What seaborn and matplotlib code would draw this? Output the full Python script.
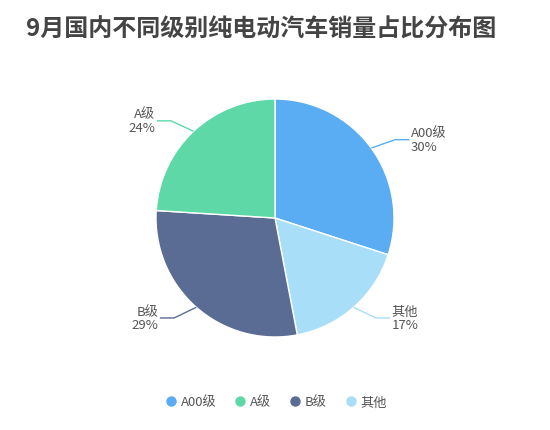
import numpy as np
import seaborn as sns
import matplotlib.pyplot as plt
from matplotlib.lines import Line2D

# data
categories = ['A00级', '其他', 'B级', 'A级']   # clockwise from 12 o'clock
shares = [30, 17, 29, 24]
colors = ['#5aadf3', '#a8def8', '#5a6b94', '#5fd8a8']
legend_order = ['A00级', 'A级', 'B级', '其他']
title = '9月国内不同级别纯电动汽车销量占比分布图'

sns.set_theme(style='white')
plt.rcParams['font.family'] = ['Noto Sans CJK SC', 'DejaVu Sans']

W, H = 550, 431
cx, cy, R = 275, 219, 119
fig = plt.figure(figsize=(W / 100, H / 100), dpi=100)
fig.patch.set_facecolor('white')
ax = fig.add_axes([0, 0, 1, 1])

wedges, _ = ax.pie(shares, colors=colors, startangle=90, counterclock=False,
                   radius=1, wedgeprops=dict(edgecolor='white', linewidth=1))
ax.set_aspect('auto')
ax.set_xlim(-cx / R, (W - cx) / R)
ax.set_ylim(-(H - cy) / R, cy / R)
ax.axis('off')

# leader lines and labels
for w, name, val, col in zip(wedges, categories, shares, colors):
    mid = np.deg2rad((w.theta1 + w.theta2) / 2)
    x0, y0 = np.cos(mid), np.sin(mid)
    side = 1 if x0 > 0 else -1
    x1, y1 = 1.1 * x0 + side * 0.12, 1.12 * y0
    x2 = x1 + side * 0.12
    ax.plot([x0, x1, x2], [y0, y1, y1], color=col, lw=1, solid_capstyle='butt')
    ax.text(x2 + side * 0.01, y1, f'{name}\n{val}%', ha='left' if side > 0 else 'right',
            va='center', fontsize=9.5, color='#555555', linespacing=1.05)

fig.text(261 / W, 1 - 30 / H, title, ha='center', va='center', fontsize=17.3,
         fontweight='bold', color='#444444')

handles = [Line2D([], [], marker='o', ls='', markersize=7.5, markeredgewidth=0,
                  color=colors[categories.index(c)]) for c in legend_order]
fig.legend(handles, legend_order, loc='center', bbox_to_anchor=(0.5, 1 - 403 / H),
           ncol=4, frameon=False, handletextpad=0.15, columnspacing=1.2,
           fontsize=9.5, labelcolor='#555555', handlelength=1.2)

fig.savefig('out.png', dpi=100, facecolor='white')
